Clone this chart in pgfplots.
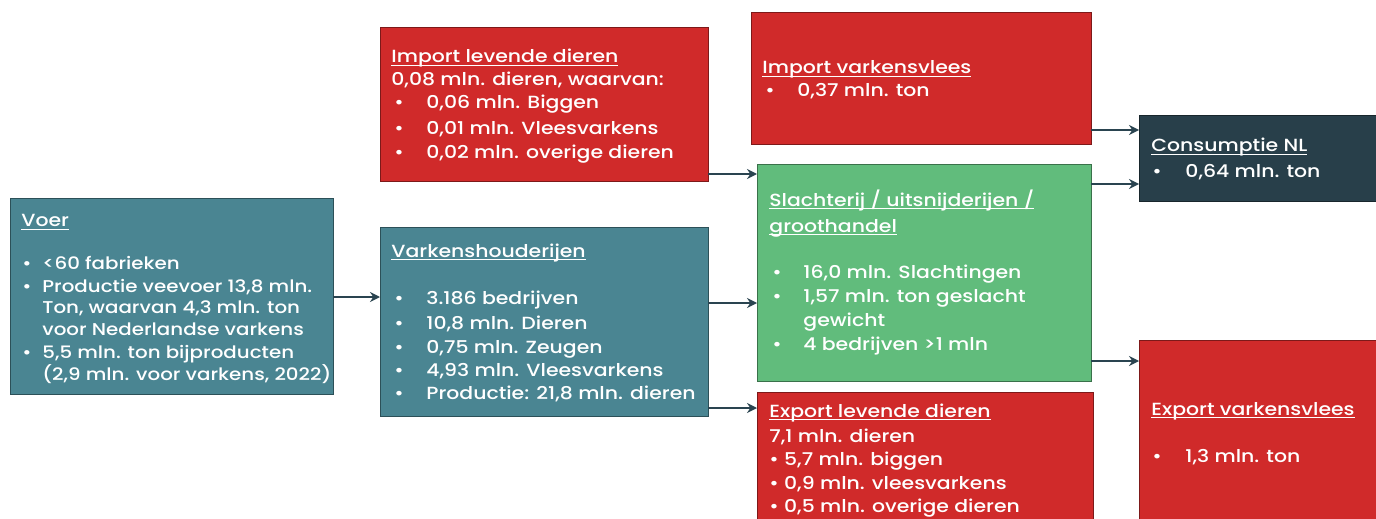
\documentclass[border=0pt]{standalone}
\usepackage{fontspec}
\setmainfont{Poppins}[UprightFont={* Medium}, FakeStretch=1.16]
\usepackage{pgfplots}
\pgfplotsset{compat=1.18}
\usetikzlibrary{arrows.meta}
\definecolor{teal}{HTML}{4A8592}
\definecolor{rood}{HTML}{D02A2A}
\definecolor{groen}{HTML}{61BC7C}
\definecolor{donker}{HTML}{283F4A}
\definecolor{pijl}{HTML}{2A4450}
\newcommand{\uline}[1]{\setbox0\hbox{#1}\rlap{\rule[-1.3pt]{\wd0}{0.5pt}}\box0}
\newcommand{\T}[3]{\node[anchor=base west, inner sep=0pt, text=white, font=\fontsize{8.8pt}{10pt}\selectfont] at (axis cs:#1,#2) {#3};}
\newcommand{\TV}[3]{\node[anchor=base west, inner sep=0pt, text=white, font=\fontsize{8.55pt}{10pt}\selectfont] at (axis cs:#1,#2) {#3};}
\begin{document}
\begin{tikzpicture}
\begin{axis}[
  width=688pt, height=259.5pt, scale only axis,
  xmin=0, xmax=1376, ymin=0, ymax=519, y dir=reverse,
  hide axis, clip=true,
]
% frame (invisible) to fix the picture extent
\addplot[draw=none] coordinates {(0,0) (1376,519)};
% boxes
\addplot[fill=teal, draw=teal!60!black, line width=0.4pt] coordinates {(10,198) (333,198) (333,394) (10,394)} --cycle;
\addplot[fill=rood, draw=rood!60!black, line width=0.4pt] coordinates {(380,27) (708,27) (708,181) (380,181)} --cycle;
\addplot[fill=teal, draw=teal!60!black, line width=0.4pt] coordinates {(380,227) (708,227) (708,416) (380,416)} --cycle;
\addplot[fill=rood, draw=rood!60!black, line width=0.4pt] coordinates {(751,12) (1091,12) (1091,144) (751,144)} --cycle;
\addplot[fill=groen, draw=groen!60!black, line width=0.4pt] coordinates {(757,164) (1091,164) (1091,381) (757,381)} --cycle;
\addplot[fill=rood, draw=rood!60!black, line width=0.4pt] coordinates {(757,392) (1093,392) (1093,530) (757,530)} --cycle;
\addplot[fill=donker, draw=donker!60!black, line width=0.4pt] coordinates {(1139,115) (1380,115) (1380,201) (1139,201)} --cycle;
\addplot[fill=rood, draw=rood!60!black, line width=0.4pt] coordinates {(1139,340) (1380,340) (1380,530) (1139,530)} --cycle;
% arrows
\addplot[pijl, line width=1.2pt, -{Stealth[length=5pt,width=5pt]}] coordinates {(333,297) (380,297)};
\addplot[pijl, line width=1.2pt, -{Stealth[length=5pt,width=5pt]}] coordinates {(708,174) (757,174)};
\addplot[pijl, line width=1.2pt, -{Stealth[length=5pt,width=5pt]}] coordinates {(708,303) (757,303)};
\addplot[pijl, line width=1.2pt, -{Stealth[length=5pt,width=5pt]}] coordinates {(708,408) (757,408)};
\addplot[pijl, line width=1.2pt, -{Stealth[length=5pt,width=5pt]}] coordinates {(1091,130) (1139,130)};
\addplot[pijl, line width=1.2pt, -{Stealth[length=5pt,width=5pt]}] coordinates {(1091,184) (1139,184)};
\addplot[pijl, line width=1.2pt, -{Stealth[length=5pt,width=5pt]}] coordinates {(1091,361) (1139,361)};
% Voer
\T{21}{227}{\uline{Voer}}
\TV{22}{269}{•}\TV{42}{269}{<60 fabrieken}
\TV{22}{292}{•}\TV{42}{292}{Productie veevoer 13,8 mln.}
\TV{42}{313}{Ton, waarvan 4,3 mln. ton}
\TV{42}{335}{voor Nederlandse varkens}
\TV{22}{358}{•}\TV{42}{358}{5,5 mln. ton bijproducten}
\TV{42}{380}{(2,9 mln. voor varkens, 2022)}
% Import levende dieren
\T{391}{63}{\uline{Import levende dieren}}
\T{391}{86}{0,08 mln. dieren, waarvan:}
\T{394}{109}{•}\T{426}{109}{0,06 mln. Biggen}
\T{394}{134}{•}\T{426}{134}{0,01 mln. Vleesvarkens}
\T{394}{158}{•}\T{426}{158}{0,02 mln. overige dieren}
% Varkenshouderijen
\T{391}{257}{\uline{Varkenshouderijen}}
\T{394}{304}{•}\T{426}{304}{3.186 bedrijven}
\T{394}{329}{•}\T{426}{329}{10,8 mln. Dieren}
\T{394}{353}{•}\T{426}{353}{0,75 mln. Zeugen}
\T{394}{376}{•}\T{426}{376}{4,93 mln. Vleesvarkens}
\T{394}{399}{•}\T{426}{399}{Productie: 21,8 mln. dieren}
% Import varkensvlees
\T{762}{74}{\uline{Import varkensvlees}}
\T{765}{97}{•}\T{797}{97}{0,37 mln. ton}
% Slachterij
\T{769}{206}{\uline{Slachterij / uitsnijderijen /}}
\T{769}{232}{\uline{groothandel}}
\T{772}{278}{•}\T{803}{278}{16,0 mln. Slachtingen}
\T{772}{302}{•}\T{803}{302}{1,57 mln. ton geslacht}
\T{803}{326}{gewicht}
\T{772}{350}{•}\T{803}{350}{4 bedrijven >1 mln}
% Export levende dieren
\T{769}{417}{\uline{Export levende dieren}}
\T{769}{442}{7,1 mln. dieren}
\T{769}{465}{• 5,7 mln. biggen}
\T{769}{489}{• 0,9 mln. vleesvarkens}
\T{769}{512}{• 0,5 mln. overige dieren}
% Consumptie
\T{1151}{152}{\uline{Consumptie NL}}
\T{1152}{177}{•}\T{1185}{177}{0,64 mln. ton}
% Export varkensvlees
\T{1151}{415}{\uline{Export varkensvlees}}
\T{1152}{462}{•}\T{1185}{462}{1,3 mln. ton}
\end{axis}
\end{tikzpicture}
\end{document}
